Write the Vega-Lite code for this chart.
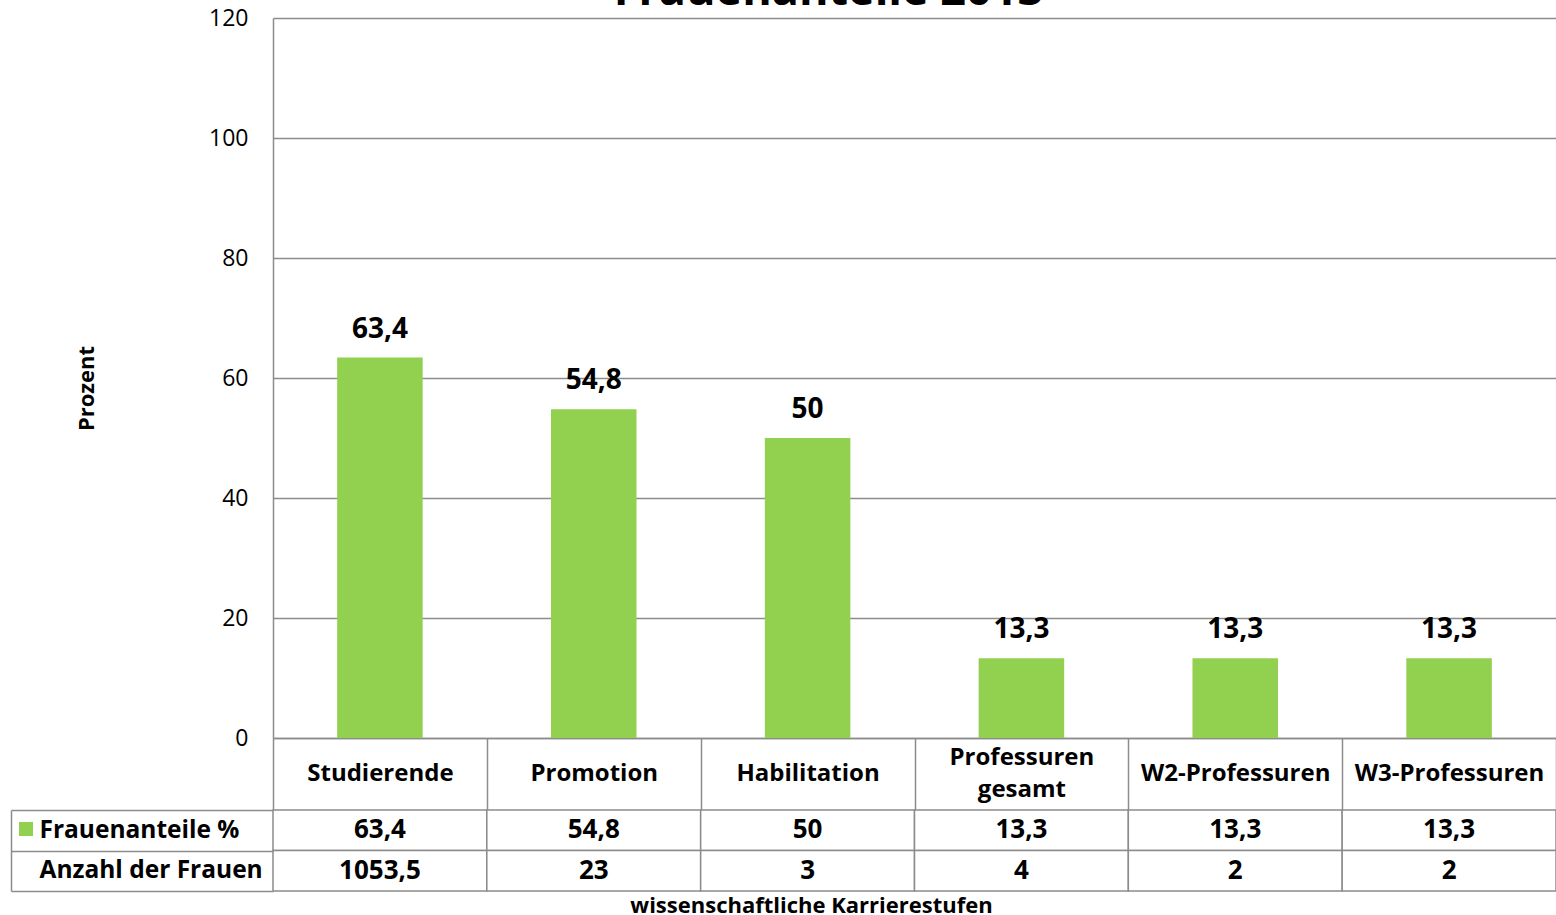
{
  "$schema": "https://vega.github.io/schema/vega-lite/v6.json",
  "padding": {"left": 10, "top": -31, "right": 1, "bottom": 40},
  "title": {"text": "Frauenanteile 2013", "fontSize": 45, "fontWeight": "bold", "font": "Open Sans", "color": "black", "anchor": "middle", "dx": 45, "offset": -7},
  "datasets": {
    "stufen": [
      {"Stufe": "Studierende", "Frauenanteile %": 63.4, "Anzahl der Frauen": 1053.5},
      {"Stufe": "Promotion", "Frauenanteile %": 54.8, "Anzahl der Frauen": 23},
      {"Stufe": "Habilitation", "Frauenanteile %": 50, "Anzahl der Frauen": 3},
      {"Stufe": "Professuren gesamt", "Frauenanteile %": 13.3, "Anzahl der Frauen": 4},
      {"Stufe": "W2-Professuren", "Frauenanteile %": 13.3, "Anzahl der Frauen": 2},
      {"Stufe": "W3-Professuren", "Frauenanteile %": 13.3, "Anzahl der Frauen": 2}
    ]
  },
  "spacing": 72,
  "bounds": "flush",
  "config": {
    "locale": {"number": {"decimal": ",", "thousands": ".", "grouping": [3], "currency": ["", " €"]}},
    "font": "Open Sans",
    "view": {"stroke": null},
    "axis": {"labelFont": "Open Sans", "titleFont": "Open Sans", "labelColor": "black", "titleColor": "black"}
  },
  "vconcat": [
    {
      "width": 1283,
      "height": 720,
      "data": {"name": "stufen"},
      "encoding": {
        "x": {
          "field": "Stufe", "type": "nominal", "sort": null,
          "scale": {"type": "band", "padding": 0},
          "axis": {
            "title": null, "orient": "bottom", "tickBand": "extent", "tickSize": 72,
            "tickColor": "#8c8c8c", "tickWidth": 1.5, "domainColor": "#8c8c8c", "domainWidth": 1.5,
            "labelAngle": 0, "labelFontSize": 24, "labelFontWeight": "bold",
            "labelPadding": {"condition": {"test": "indexof(datum.label, ' ') >= 0", "value": -53}, "value": -37},
            "labelBaseline": "middle", "labelExpr": "split(datum.label, ' ')", "labelLineHeight": 32,
            "labelLimit": 0, "labelOverlap": false
          }
        }
      },
      "layer": [
        {
          "mark": {"type": "bar", "width": {"band": 0.4}},
          "encoding": {
            "y": {
              "field": "Frauenanteile %", "type": "quantitative",
              "scale": {"domain": [0, 120], "nice": false},
              "axis": {
                "title": "Prozent", "values": [0, 20, 40, 60, 80, 100, 120], "grid": true,
                "gridColor": "#8c8c8c", "gridWidth": 1.5, "ticks": false, "domainColor": "#8c8c8c", "domainWidth": 1.5,
                "labelFontSize": 23, "labelPadding": 25, "titleFontSize": 22, "titleFontWeight": "bold", "titlePadding": 110,
                "titleY": 370
              }
            },
            "color": {
              "datum": "Frauenanteile %", "type": "nominal",
              "scale": {"range": ["#92D050"]},
              "legend": {
                "orient": "none", "legendX": -254, "legendY": 804, "title": null,
                "symbolType": "square", "symbolSize": 196, "symbolStrokeWidth": 0,
                "labelExpr": "''", "padding": 0
              }
            }
          }
        },
        {
          "mark": {"type": "text", "fontSize": 28, "fontWeight": "bold", "baseline": "alphabetic", "dy": -20, "color": "black"},
          "encoding": {
            "y": {"field": "Frauenanteile %", "type": "quantitative"},
            "text": {"field": "Frauenanteile %", "type": "quantitative", "format": ".1~f"}
          }
        }
      ]
    },
    {
      "width": 1283,
      "height": 81,
      "data": {"name": "stufen"},
      "transform": [{"fold": ["Frauenanteile %", "Anzahl der Frauen"], "as": ["Reihe", "Wert"]}],
      "encoding": {
        "x": {
          "field": "Stufe", "type": "nominal", "sort": null,
          "scale": {"type": "band", "padding": 0},
          "axis": {
            "title": "wissenschaftliche Karrierestufen", "labels": false, "ticks": false, "domain": false,
            "titleFontSize": 22, "titleFontWeight": "bold", "titlePadding": 4, "titleX": 538
          }
        },
        "y": {
          "field": "Reihe", "type": "nominal",
          "scale": {"type": "band", "padding": 0, "domain": ["Frauenanteile %", "Anzahl der Frauen"]},
          "axis": {
            "title": null, "orient": "left", "offset": 262, "tickBand": "extent", "tickSize": -262,
            "tickColor": "#8c8c8c", "tickWidth": 1.5, "domainColor": "#8c8c8c", "domainWidth": 1.5,
            "labelAlign": "left", "labelBaseline": "middle", "labelPadding": 234, "labelFontSize": 24.5,
            "labelFontWeight": "bold", "labelLimit": 0
          }
        }
      },
      "layer": [
        {
          "mark": {"type": "rect", "fill": "white", "stroke": "#8c8c8c", "strokeWidth": 1.5}
        },
        {
          "mark": {"type": "text", "fontSize": 26, "fontWeight": "bold", "color": "black"},
          "encoding": {
            "text": {"field": "Wert", "type": "quantitative", "format": ".1~f"}
          }
        }
      ]
    }
  ]
}
